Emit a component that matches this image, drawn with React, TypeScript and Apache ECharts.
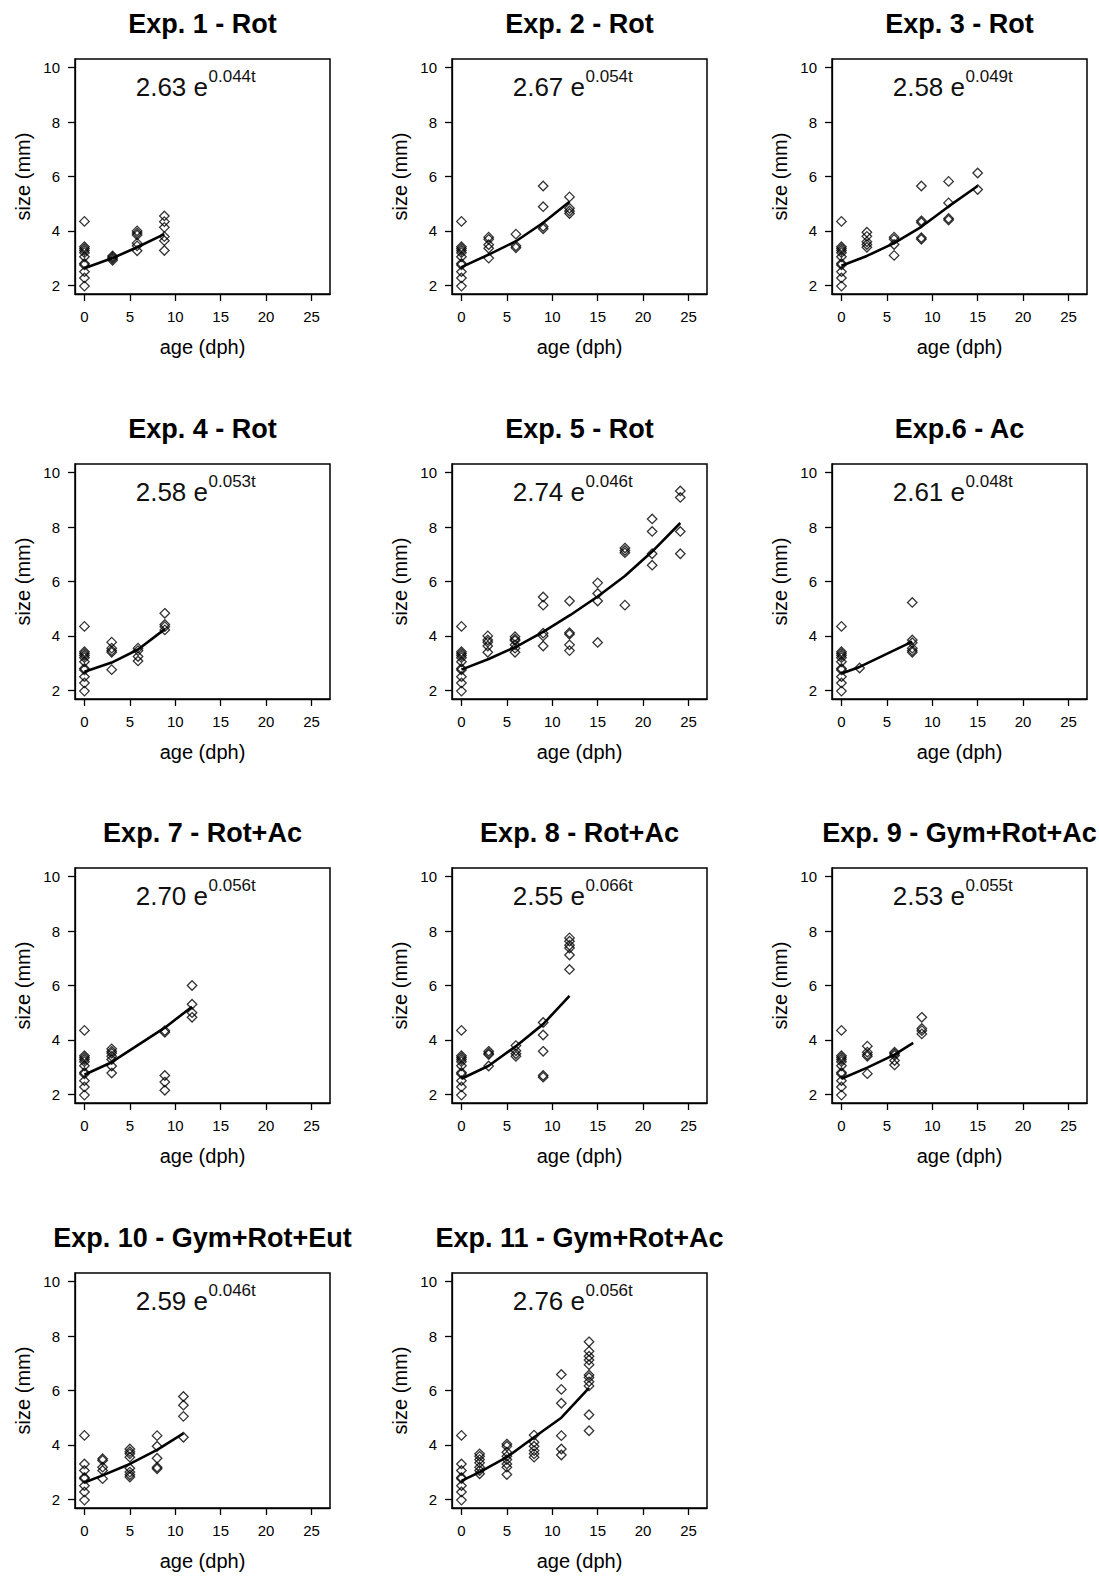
import React, { useEffect, useRef } from "react";
import * as echarts from "echarts";

// ---------- data ----------
const xTicks = [0, 5, 10, 15, 20, 25];
const yTicks = [2, 4, 6, 8, 10];

const titles = [
  "Exp. 1 - Rot", "Exp. 2 - Rot", "Exp. 3 - Rot", "Exp. 4 - Rot", "Exp. 5 - Rot", "Exp.6 - Ac",
  "Exp. 7 - Rot+Ac", "Exp. 8 - Rot+Ac", "Exp. 9 - Gym+Rot+Ac", "Exp. 10 - Gym+Rot+Eut", "Exp. 11 - Gym+Rot+Ac",
];
const coefA = ["2.63", "2.67", "2.58", "2.58", "2.74", "2.61", "2.70", "2.55", "2.53", "2.59", "2.76"];
const coefB = ["0.044", "0.054", "0.049", "0.053", "0.046", "0.048", "0.056", "0.066", "0.055", "0.046", "0.056"];

const day0A = [4.35, 3.42, 3.35, 3.28, 3.2, 3.05, 2.8, 2.75, 2.5, 2.27, 1.97];
const day0B = [4.35, 3.3, 3.06, 2.8, 2.76, 2.5, 2.27, 1.97];

const exp1Ages = [0, 3.1, 5.8, 8.8];
const exp1Sizes = [day0A, [2.92, 2.98, 3.03, 3.08], [4.0, 3.92, 3.85, 3.55, 3.45, 3.27], [4.55, 4.34, 4.13, 3.79, 3.64, 3.28]];
const exp1FitAges = [0, 3.1, 5.8, 8.8];
const exp1FitSizes = [2.63, 3.0, 3.4, 3.88];

const exp2Ages = [0, 3, 6, 9, 11.9];
const exp2Sizes = [day0A, [3.77, 3.69, 3.49, 3.36, 3.0], [3.88, 3.45, 3.38], [5.65, 4.89, 4.16, 4.08], [5.25, 4.83, 4.73, 4.64]];
const exp2FitAges = [0, 3, 6, 9, 11.9];
const exp2FitSizes = [2.67, 3.13, 3.62, 4.3, 5.07];

const exp3Ages = [0, 2.8, 5.8, 8.8, 11.8, 15];
const exp3Sizes = [day0A, [3.95, 3.8, 3.6, 3.5, 3.4], [3.77, 3.69, 3.5, 3.1], [5.65, 4.37, 4.31, 3.75, 3.69], [5.82, 5.03, 4.46, 4.4], [6.13, 5.52]];
const exp3FitAges = [0, 2.8, 5.8, 8.8, 11.8, 15];
const exp3FitSizes = [2.72, 3.08, 3.55, 4.15, 4.9, 5.65];

const exp4Ages = [0, 3, 5.9, 8.85];
const exp4Sizes = [day0A, [3.77, 3.55, 3.46, 3.4, 2.76], [3.55, 3.46, 3.24, 3.08], [4.83, 4.42, 4.34, 4.22]];
const exp4FitAges = [0, 3, 5.9, 8.85];
const exp4FitSizes = [2.68, 3.02, 3.5, 4.25];

const exp5Ages = [0, 2.9, 5.9, 9, 11.9, 15, 18, 21, 24.1];
const exp5Sizes = [
  day0A, [4.0, 3.85, 3.77, 3.63, 3.4], [3.97, 3.88, 3.83, 3.67, 3.55, 3.4], [5.43, 5.13, 4.1, 4.0, 3.63],
  [5.28, 4.12, 4.06, 3.67, 3.46], [5.95, 5.56, 5.28, 3.76], [7.23, 7.14, 7.06, 5.13], [8.3, 7.84, 7.02, 6.6], [9.33, 9.09, 7.84, 7.02],
];
const exp5FitAges = [0, 3, 6, 9, 12, 15, 18, 21, 24.1];
const exp5FitSizes = [2.76, 3.15, 3.6, 4.15, 4.77, 5.45, 6.2, 7.1, 8.15];

const exp6Ages = [0, 2, 7.8];
const exp6Sizes = [day0A, [2.82], [5.23, 3.85, 3.75, 3.55, 3.46, 3.4]];
const exp6FitAges = [0, 2, 7.8];
const exp6FitSizes = [2.62, 2.86, 3.79];

const exp7Ages = [0, 3, 8.85, 11.85];
const exp7Sizes = [day0A, [3.67, 3.58, 3.51, 3.4, 3.28, 3.04, 2.78], [4.34, 4.28, 2.69, 2.45, 2.15], [6.0, 5.31, 5.0, 4.83]];
const exp7FitAges = [0, 3, 8.85, 11.85];
const exp7FitSizes = [2.72, 3.18, 4.45, 5.22];

const exp8Ages = [0, 3, 6, 9, 11.9];
const exp8Sizes = [day0A, [3.58, 3.51, 3.46, 3.04], [3.79, 3.6, 3.49, 3.4], [4.64, 4.18, 3.58, 2.69, 2.63], [7.75, 7.63, 7.48, 7.38, 7.12, 6.59]];
const exp8FitAges = [0, 3, 6, 9, 11.9];
const exp8FitSizes = [2.57, 3.05, 3.77, 4.58, 5.62];

const exp9Ages = [0, 2.85, 5.85, 8.85];
const exp9Sizes = [day0A, [3.77, 3.55, 3.46, 3.4, 2.76], [3.55, 3.49, 3.43, 3.24, 3.08], [4.83, 4.42, 4.34, 4.22]];
const exp9FitAges = [0, 2.85, 5.85, 7.9];
const exp9FitSizes = [2.57, 2.98, 3.46, 3.89];

const exp10Ages = [0, 2, 5, 8, 10.9];
const exp10Sizes = [day0B, [3.49, 3.43, 3.18, 3.06, 2.76], [3.85, 3.75, 3.67, 3.55, 3.14, 3.0, 2.9, 2.82], [4.34, 3.95, 3.51, 3.18, 3.12], [5.78, 5.46, 5.05, 4.28]];
const exp10FitAges = [0, 2, 5, 8, 10.9];
const exp10FitSizes = [2.62, 2.88, 3.3, 3.82, 4.42];

const exp11Ages = [0, 2, 5, 8, 11, 14.05];
const exp11Sizes = [
  day0B, [3.67, 3.58, 3.46, 3.34, 3.18, 3.06, 2.94], [4.03, 3.95, 3.73, 3.58, 3.46, 3.3, 3.18, 2.91],
  [4.36, 4.1, 3.95, 3.79, 3.67, 3.55], [6.59, 6.04, 5.53, 4.34, 3.85, 3.63],
  [7.79, 7.44, 7.26, 7.12, 6.95, 6.57, 6.48, 6.32, 6.17, 5.11, 4.52],
];
const exp11FitAges = [0, 2, 5, 8, 11, 14.05];
const exp11FitSizes = [2.68, 3.0, 3.55, 4.28, 5.0, 6.1];

const allAges = [exp1Ages, exp2Ages, exp3Ages, exp4Ages, exp5Ages, exp6Ages, exp7Ages, exp8Ages, exp9Ages, exp10Ages, exp11Ages];
const allSizes = [exp1Sizes, exp2Sizes, exp3Sizes, exp4Sizes, exp5Sizes, exp6Sizes, exp7Sizes, exp8Sizes, exp9Sizes, exp10Sizes, exp11Sizes];
const allFitAges = [exp1FitAges, exp2FitAges, exp3FitAges, exp4FitAges, exp5FitAges, exp6FitAges, exp7FitAges, exp8FitAges, exp9FitAges, exp10FitAges, exp11FitAges];
const allFitSizes = [exp1FitSizes, exp2FitSizes, exp3FitSizes, exp4FitSizes, exp5FitSizes, exp6FitSizes, exp7FitSizes, exp8FitSizes, exp9FitSizes, exp10FitSizes, exp11FitSizes];

// ---------- layout ----------
const W = 1099;
const H = 1577;
const COL_LEFT = [75, 452, 832];
const ROW_TOP = [59, 464, 868, 1273];
const BOX_W = 255;
const BOX_H = 235;
const FONT = "'Liberation Sans', Arial, Helvetica, sans-serif";

function buildOption() {
  const grid: any[] = [];
  const xAxis: any[] = [];
  const yAxis: any[] = [];
  const series: any[] = [];
  const graphic: any[] = [];

  for (let i = 0; i < titles.length; i++) {
    const left = COL_LEFT[i % 3];
    const top = ROW_TOP[Math.floor(i / 3)];
    grid.push({
      left, top, width: BOX_W, height: BOX_H, show: true,
      borderColor: "#000", borderWidth: 1.5, backgroundColor: "transparent",
    });
    const axisLine = { show: true, onZero: false, lineStyle: { color: "#000", width: 1.3 } };
    xAxis.push({
      gridIndex: i, type: "value", min: -1.04, max: 27.04,
      axisLine,
      axisTick: { show: true, inside: false, length: 7, lineStyle: { color: "#000", width: 1.3 }, customValues: xTicks },
      axisLabel: { customValues: xTicks, fontSize: 15, color: "#000", margin: 15, fontFamily: FONT },
      splitLine: { show: false },
      name: "age (dph)", nameLocation: "middle", nameGap: 43,
      nameTextStyle: { fontSize: 20, color: "#000", fontFamily: FONT },
    });
    yAxis.push({
      gridIndex: i, type: "value", min: 1.68, max: 10.32,
      axisLine,
      axisTick: { show: true, inside: false, length: 7, lineStyle: { color: "#000", width: 1.3 }, customValues: yTicks },
      axisLabel: { customValues: yTicks, fontSize: 15, color: "#000", margin: 15, fontFamily: FONT },
      splitLine: { show: false },
      name: "size (mm)", nameLocation: "middle", nameGap: 42,
      nameTextStyle: { fontSize: 20, color: "#000", fontFamily: FONT },
    });

    const pts: number[][] = [];
    allAges[i].forEach((age, k) => {
      allSizes[i][k].forEach((s) => pts.push([age, s]));
    });
    series.push({
      type: "scatter", xAxisIndex: i, yAxisIndex: i, data: pts,
      symbol: "diamond", symbolSize: 9.5,
      itemStyle: { color: "rgba(255,255,255,0)", borderColor: "#000", borderWidth: 1.3 },
      silent: true,
    });
    series.push({
      type: "line", xAxisIndex: i, yAxisIndex: i,
      data: allFitAges[i].map((a, k) => [a, allFitSizes[i][k]]),
      symbol: "none", lineStyle: { color: "#000", width: 2.6 }, silent: true, z: 3,
    });

    // title
    graphic.push({
      type: "text", x: left + BOX_W / 2, y: top - 35.5,
      style: {
        text: titles[i], fontSize: 27, fontWeight: "bold", fontFamily: FONT, fill: "#000",
        align: "center", verticalAlign: "middle", textAlign: "center", textVerticalAlign: "middle",
      },
    });
    // equation
    graphic.push({
      type: "text", x: left + 133, y: top + 27.7,
      style: {
        text: coefA[i] + " e", fontSize: 26, fontFamily: FONT, fill: "#111",
        align: "right", verticalAlign: "middle", textAlign: "right", textVerticalAlign: "middle",
      },
    });
    graphic.push({
      type: "text", x: left + 133.5, y: top + 17.5,
      style: {
        text: coefB[i] + "t", fontSize: 17, fontFamily: FONT, fill: "#111",
        align: "left", verticalAlign: "middle", textAlign: "left", textVerticalAlign: "middle",
      },
    });
  }

  return {
    animation: false,
    backgroundColor: "#fff",
    grid, xAxis, yAxis, series, graphic,
  };
}

export default function App() {
  const ref = useRef<HTMLDivElement>(null);
  useEffect(() => {
    if (!ref.current) return;
    const chart = echarts.init(ref.current, undefined, { renderer: "svg", width: W, height: H });
    chart.setOption(buildOption() as any);
    return () => chart.dispose();
  }, []);
  return (
    <div
      ref={ref}
      style={{ position: "absolute", left: 0, top: 0, width: W, height: H, background: "#fff" }}
    />
  );
}
